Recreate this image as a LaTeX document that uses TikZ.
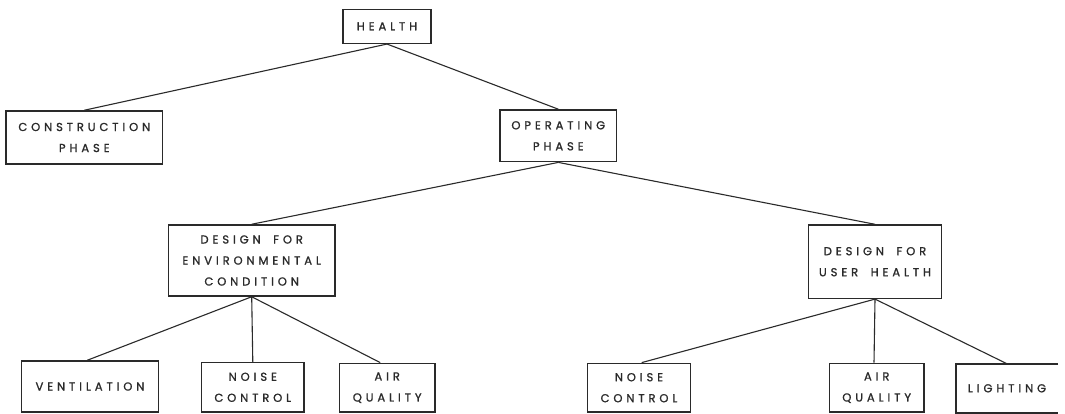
\documentclass[tikz,border=0pt]{standalone}
\usepackage{fontspec}
\setmainfont{Poppins}[LetterSpace=34,FakeBold=1.2,WordSpace=1.8]
\definecolor{ink}{HTML}{2A2A2A}
\begin{document}
\begin{tikzpicture}[x=1pt,y=-1pt,
  boxline/.style={draw=ink, line width=1.5pt},
  box/.style={boxline, inner sep=0pt, align=center, text=ink, font=\fontsize{11.5}{21}\selectfont},
  label/.style={inner sep=0pt, align=center, text=ink, font=\fontsize{11.5}{21}\selectfont},
  link/.style={draw=ink, line width=1.1pt}]
\fill[white] (0,0) rectangle (1065,414);
\useasboundingbox (0,0) rectangle (1065,414);
% level 0
\node[box, minimum width=88pt, minimum height=34pt] (health) at (387,26.3) {HEALTH};
% level 1
\node[box, minimum width=156.5pt, minimum height=53pt] (constr) at (84.3,137.5) {CONSTRUCTION\\PHASE};
\node[box, minimum width=116.7pt, minimum height=51.7pt] (oper) at (558.3,135.8) {OPERATING\\PHASE};
% level 2
\node[box, minimum width=166.7pt, minimum height=71pt] (env) at (251.7,260.5) {DESIGN FOR\\ENVIRONMENTAL\\CONDITION};
\node[box, minimum width=133.4pt, minimum height=73.3pt] (user) at (875,261.7) {DESIGN FOR\\USER HEALTH};
% level 3
\node[box, minimum width=136.6pt, minimum height=51pt] (vent) at (90,386.5) {VENTILATION};
\node[box, minimum width=102.3pt, minimum height=49.3pt] (noisel) at (252.8,387.3) {NOISE\\CONTROL};
\node[box, minimum width=95.7pt, minimum height=48.7pt] (airl) at (387.2,387.7) {AIR\\QUALITY};
\node[box, minimum width=103.4pt, minimum height=48.7pt] (noiser) at (639,387.7) {NOISE\\CONTROL};
\node[box, minimum width=94.7pt, minimum height=48.7pt] (airr) at (876.7,387.7) {AIR\\QUALITY};
\node[label, minimum width=102pt, minimum height=48.7pt] (light) at (1007,388.3) {LIGHTING};
\draw[boxline] (light.north east) -- (light.north west) -- (light.south west) -- (light.south east);
% connectors
\draw[link] (health.south) -- (constr.north);
\draw[link] (health.south) -- (oper.north);
\draw[link] (oper.south) -- (env.north);
\draw[link] (oper.south) -- (user.north);
\draw[link] (env.south) -- ([xshift=-2.7pt]vent.north);
\draw[link] (env.south) -- (noisel.north);
\draw[link] (env.south) -- ([xshift=-7pt]airl.north);
\draw[link] (user.south) -- ([xshift=2.7pt]noiser.north);
\draw[link] (user.south) -- ([xshift=-2.7pt]airr.north);
\draw[link] (user.south) -- (light.north);
\end{tikzpicture}
\end{document}
